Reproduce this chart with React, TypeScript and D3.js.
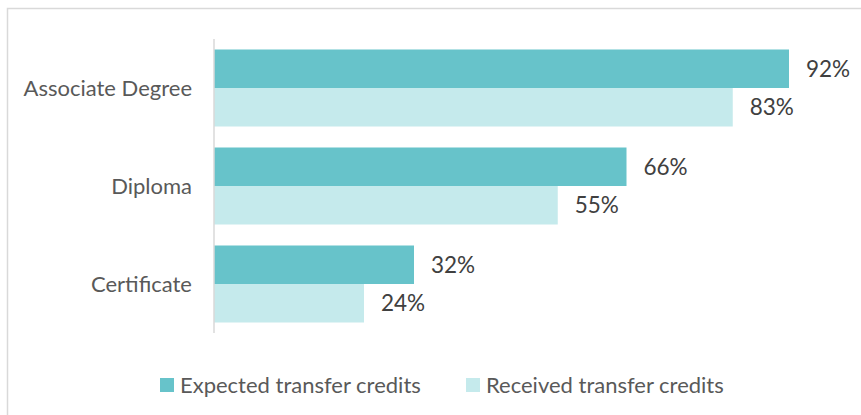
import React from "react";
import * as d3 from "d3";

const categories = ["Associate Degree", "Diploma", "Certificate"];
const seriesNames = ["Expected transfer credits", "Received transfer credits"];
const expected = [92, 66, 32];
const received = [83, 55, 24];
const colors = ["#67c3ca", "#c5eaec"];

const W = 861;
const H = 415;
const FONT = "Lato, 'Open Sans', sans-serif";

export default function App() {
  const x0 = 214;
  const x = d3.scaleLinear().domain([0, 100]).range([x0, x0 + 625]);
  const y = d3.scaleBand<string>().domain(categories).range([39, 333]).paddingInner(21 / 98).paddingOuter(10.5 / 98);
  const inner = d3.scaleBand<number>().domain([0, 1]).range([0, y.bandwidth()]);
  const series = [expected, received];

  return (
    <svg width={W} height={H} style={{ position: "absolute", left: 0, top: 0 }}>
      <rect x={0} y={0} width={W} height={H} fill="#fff" />
      <rect x={7.5} y={8.5} width={W + 10} height={H + 10} fill="none" stroke="#d9d9d9" strokeWidth={1.5} />
      {categories.map((c, i) => (
        <g key={c}>
          {series.map((s, k) => (
            <g key={k}>
              <rect
                x={x(0)}
                y={(y(c) as number) + (inner(k) as number)}
                width={x(s[i]) - x(0)}
                height={inner.bandwidth()}
                fill={colors[k]}
              />
              <text
                x={x(s[i]) + 17}
                y={(y(c) as number) + (inner(k) as number) + inner.bandwidth() / 2}
                dy="0.35em"
                fontFamily={FONT}
                fontSize={22.5}
                fill="#404040"
              >
                {s[i]}%
              </text>
            </g>
          ))}
          <text
            x={192}
            y={(y(c) as number) + y.bandwidth() / 2}
            dy="0.35em"
            textAnchor="end"
            fontFamily={FONT}
            fontSize={22}
            fill="#595959"
          >
            {c}
          </text>
        </g>
      ))}
      <line x1={x0} x2={x0} y1={39} y2={333} stroke="#d9d9d9" strokeWidth={1.5} />
      {seriesNames.map((n, k) => {
        const lx = k === 0 ? 160 : 466;
        return (
          <g key={n}>
            <rect x={lx} y={378} width={14} height={14} fill={colors[k]} />
            <text x={lx + 20} y={385} dy="0.35em" fontFamily={FONT} fontSize={22} fill="#595959">
              {n}
            </text>
          </g>
        );
      })}
    </svg>
  );
}
